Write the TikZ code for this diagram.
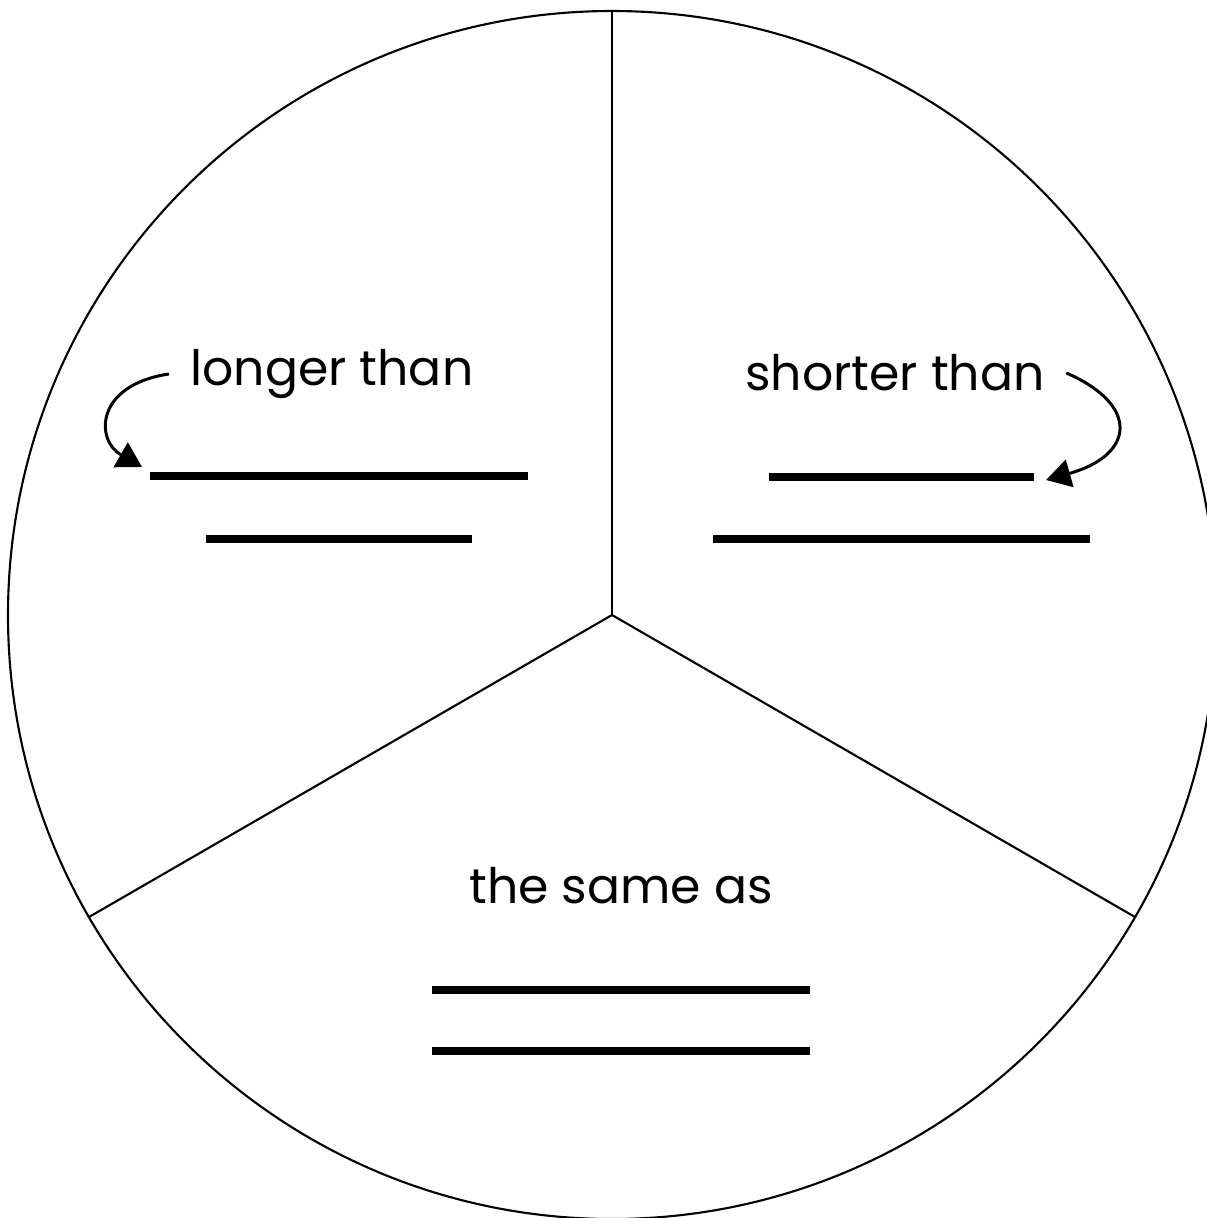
\documentclass[tikz,border=0pt]{standalone}
\usepackage{fontspec}
\setmainfont{Poppins}
\usetikzlibrary{arrows.meta}

\begin{document}
\begin{tikzpicture}[x=0.01cm, y=-0.01cm, >={Triangle[length=7pt,width=8pt]},
  rim/.style={line width=0.6pt},
  bar/.style={line width=2.3pt},
  word/.style={font=\fontsize{13.9}{17}\selectfont, inner sep=6pt},
  curl/.style={->, line width=0.85pt}]
  \useasboundingbox (0,0) rectangle (1207,1218);
  \clip (0,0) rectangle (1207,1218);
  % circle split in three
  \coordinate (c) at (612,615);
  \draw[rim] (c) circle[radius=604];
  \draw[rim] (c) -- (612,11);
  \draw[rim] (c) -- (89,917);
  \draw[rim] (c) -- (1135,917);
  % longer than
  \node[word] (longer) at (332,374) {longer than};
  \draw[bar] (150,476) -- (528,476);
  \draw[bar] (206,539) -- (472,539);
  \coordinate (ltip) at (142,467);
  \draw[curl] (longer.west) .. controls (95,385) and (95,440) .. (ltip);
  % shorter than
  \node[word] (shorter) at (895,373) {shorter than};
  \draw[bar] (769,477) -- (1034,477);
  \draw[bar] (713,539) -- (1090,539);
  \coordinate (stip) at (1046,480);
  \draw[curl] (shorter.east) .. controls (1140,405) and (1135,455) .. (stip);
  % the same as
  \node[word] (same) at (621,886) {the same as};
  \draw[bar] (432,990) -- (810,990);
  \draw[bar] (432,1051) -- (810,1051);
\end{tikzpicture}
\end{document}
